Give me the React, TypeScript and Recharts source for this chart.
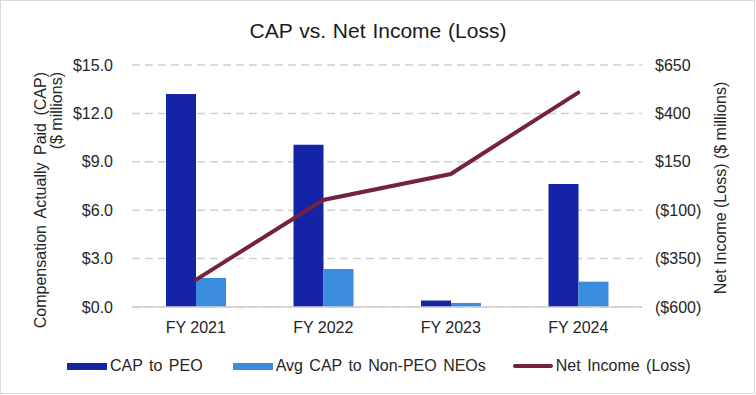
import React from 'react';
import { ComposedChart, Bar, Line, XAxis, YAxis, CartesianGrid, Legend } from 'recharts';

const categories = ['FY 2021', 'FY 2022', 'FY 2023', 'FY 2024'];
const capToPeo = [13.2, 10.05, 0.4, 7.63];
const avgCapNonPeo = [1.8, 2.36, 0.25, 1.57];
const netIncome = [-460, -47, 87, 507];
const leftTicks = [0, 3, 6, 9, 12, 15];
const rightTicks = [-600, -350, -100, 150, 400, 650];
const seriesNames = ['CAP to PEO', 'Avg CAP to Non-PEO NEOs', 'Net Income (Loss)'];

const data = categories.map((c, i) => ({
  name: c,
  peo: capToPeo[i],
  neo: avgCapNonPeo[i],
  ni: netIncome[i],
}));

const FONT = '"Liberation Sans", Arial, sans-serif';
const TEXT = '#262626';

const fmtLeft = (v: number) => `$${v.toFixed(1)}`;
const fmtRight = (v: number) => (v < 0 ? `($${Math.abs(v)})` : `$${v}`);

const LeftLabel = (props: any) => {
  const vb = props.viewBox || { x: 0, y: 65, width: 132, height: 242 };
  const yEnd = vb.y + 7;
  const x1 = vb.x + 40;
  const x2 = vb.x + 56;
  return (
    <g>
      <text
        x={x1}
        y={yEnd}
        dy="0.35em"
        transform={`rotate(-90 ${x1} ${yEnd})`}
        textAnchor="end"
        fontSize={16}
        fill={TEXT}
        fontFamily={FONT}
        style={{ wordSpacing: '3px' }}
      >
        Compensation Actually Paid (CAP)
      </text>
      <text
        x={x2}
        y={yEnd}
        dy="0.35em"
        transform={`rotate(-90 ${x2} ${yEnd})`}
        textAnchor="end"
        fontSize={16}
        fill={TEXT}
        fontFamily={FONT}
      >
        ($ millions)
      </text>
    </g>
  );
};

const RightLabel = (props: any) => {
  const vb = props.viewBox || { x: 642, y: 65, width: 114, height: 242 };
  const cx = vb.x + 78;
  const cy = vb.y + vb.height / 2 + 2;
  return (
    <text
      x={cx}
      y={cy}
      dy="0.35em"
      transform={`rotate(-90 ${cx} ${cy})`}
      textAnchor="middle"
      fontSize={16}
      fill={TEXT}
      fontFamily={FONT}
    >
      Net Income (Loss) ($ millions)
    </text>
  );
};

const legendGaps = [30, 27, 0];

const renderLegend = (props: any) => {
  const raw = props.payload || [];
  const payload = [...raw].sort(
    (a: any, b: any) => seriesNames.indexOf(a.value) - seriesNames.indexOf(b.value)
  );
  return (
    <div
      style={{
        display: 'flex',
        alignItems: 'center',
        height: 30,
        paddingLeft: 67,
        fontSize: 16,
        color: TEXT,
        fontFamily: FONT,
        wordSpacing: '2px',
        whiteSpace: 'nowrap',
      }}
    >
      {payload.map((p: any, i: number) => (
        <div key={i} style={{ display: 'flex', alignItems: 'center', marginRight: legendGaps[i] }}>
          <span
            style={{
              display: 'inline-block',
              width: 40,
              height: p.type === 'line' ? 4 : 7,
              background: p.color,
              borderRadius: p.type === 'line' ? 2 : 0,
              marginRight: 3,
            }}
          />
          <span>{p.value}</span>
        </div>
      ))}
    </div>
  );
};

export default function App() {
  return (
    <div style={{ position: 'absolute', left: 0, top: 0, width: 756, height: 395, background: '#fff', fontFamily: FONT }}>
      <div
        style={{
          position: 'absolute',
          left: 0,
          top: 20,
          width: 756,
          textAlign: 'center',
          fontSize: 21,
          lineHeight: '21px',
          color: '#1a1a1a',
          wordSpacing: '1px',
        }}
      >
        CAP vs. Net Income (Loss)
      </div>
      <ComposedChart
        width={756}
        height={395}
        data={data}
        margin={{ top: 65, right: 0, bottom: 14, left: 0 }}
        barGap={0}
        style={{ fontFamily: FONT }}
      >
        <CartesianGrid
          yAxisId="left"
          vertical={false}
          stroke="#d0d0d0"
          strokeWidth={1.5}
          strokeDasharray="8 5"
        />
        <XAxis
          dataKey="name"
          height={44}
          tickLine={false}
          tickSize={0}
          tickMargin={15}
          axisLine={{ stroke: '#d0d0d0', strokeWidth: 1.5 }}
          tick={{ fontSize: 16, fill: TEXT, fontFamily: FONT }}
        />
        <YAxis
          yAxisId="left"
          orientation="left"
          width={132}
          domain={[0, 15]}
          ticks={leftTicks}
          tickFormatter={fmtLeft}
          axisLine={false}
          tickLine={false}
          tickSize={0}
          tickMargin={19}
          tick={{ fontSize: 16, fill: TEXT, fontFamily: FONT }}
          label={<LeftLabel />}
        />
        <YAxis
          yAxisId="right"
          orientation="right"
          width={114}
          domain={[-600, 650]}
          ticks={rightTicks}
          tickFormatter={fmtRight}
          axisLine={false}
          tickLine={false}
          tickSize={0}
          tickMargin={13}
          tick={{ fontSize: 16, fill: TEXT, fontFamily: FONT }}
          label={<RightLabel />}
        />
        <Legend
          verticalAlign="bottom"
          height={30}
          content={renderLegend}
          itemSorter={null}
          wrapperStyle={{ left: 0, width: 756 }}
        />
        <Bar yAxisId="left" dataKey="peo" name={seriesNames[0]} fill="#1523A7" barSize={30} isAnimationActive={false} />
        <Bar yAxisId="left" dataKey="neo" name={seriesNames[1]} fill="#3A8CDD" barSize={30} isAnimationActive={false} />
        <Line
          yAxisId="right"
          type="linear"
          dataKey="ni"
          name={seriesNames[2]}
          stroke="#74233F"
          strokeWidth={4}
          strokeLinecap="round"
          dot={false}
          activeDot={false}
          legendType="line"
          isAnimationActive={false}
        />
      </ComposedChart>
      <div
        style={{
          position: 'absolute',
          left: 0,
          top: 0,
          width: 755,
          height: 394,
          boxSizing: 'border-box',
          border: '1px solid #d9d9d9',
          pointerEvents: 'none',
        }}
      />
    </div>
  );
}
